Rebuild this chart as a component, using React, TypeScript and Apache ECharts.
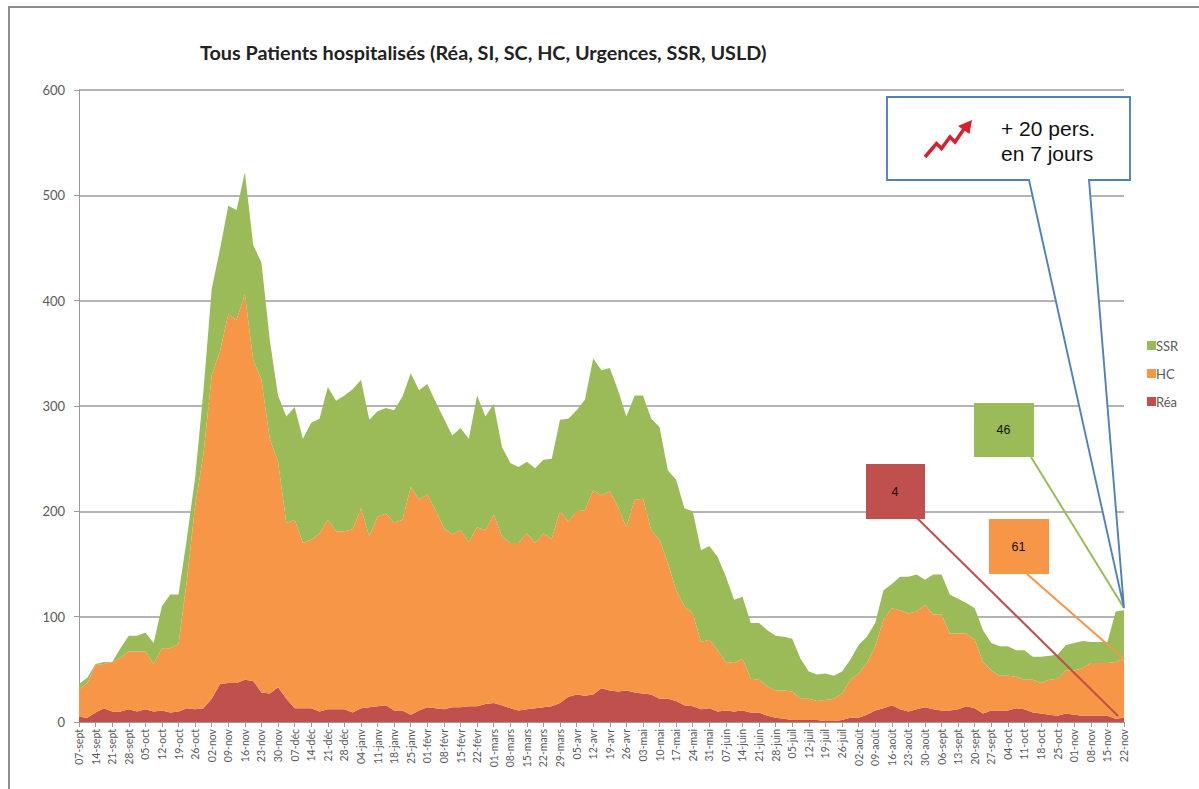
import React, { useEffect, useRef } from "react";
import * as echarts from "echarts";

const weekLabels = [
  "07-sept","14-sept","21-sept","28-sept","05-oct","12-oct","19-oct","26-oct","02-nov","09-nov","16-nov","23-nov","30-nov",
  "07-déc","14-déc","21-déc","28-déc","04-janv","11-janv","18-janv","25-janv","01-févr","08-févr","15-févr","22-févr",
  "01-mars","08-mars","15-mars","22-mars","29-mars","05-avr","12-avr","19-avr","26-avr","03-mai","10-mai","17-mai","24-mai","31-mai",
  "07-juin","14-juin","21-juin","28-juin","05-juil","12-juil","19-juil","26-juil","02-août","09-août","16-août","23-août","30-août",
  "06-sept","13-sept","20-sept","27-sept","04-oct","11-oct","18-oct","25-oct","01-nov","08-nov","15-nov","22-nov",
];

// Readings every half week
const rea = [
  5,4,9,13,10,10,12,10,12,10,11,9,10,13,12,13,22,36,37,37,40,39,28,27,33,22,13,13,13,10,12,12,12,9,
  13,14,15,16,11,11,7,11,14,13,12,14,14,15,15,17,18,16,13,11,12,13,14,15,18,24,26,25,26,32,30,29,30,28,27,26,22,22,20,16,15,12,
  13,10,11,10,11,9,9,6,4,3,2,2,2,2,1,1,2,4,4,7,11,13,16,12,10,12,14,12,11,11,12,15,13,8,11,11,11,13,12,9,8,7,6,8,7,6,6,6,6,3,4,
];
const hc = [
  26,33,45,42,47,51,55,57,55,45,59,61,64,121,193,241,307,316,350,345,366,305,297,242,214,167,179,157,160,169,180,169,169,174,
  190,162,180,182,178,181,216,200,202,188,172,164,168,156,170,165,179,160,157,159,167,157,165,159,182,166,174,176,194,183,189,175,155,183,185,156,151,129,105,94,88,64,
  65,58,46,46,49,32,31,28,26,27,27,20,20,18,20,21,25,36,42,49,61,84,92,94,93,93,97,90,91,73,72,69,65,49,38,33,33,30,28,31,29,33,35,41,42,45,50,50,50,54,56,
];
const ssr = [
  5,5,1,2,0,9,15,15,18,20,40,51,47,40,27,60,82,97,103,104,116,109,111,94,63,101,107,99,111,109,126,124,129,133,
  122,111,100,100,107,117,108,104,105,103,104,94,97,98,125,108,105,85,76,72,68,71,70,76,87,98,96,105,125,119,117,111,105,99,98,106,107,88,105,93,97,87,
  89,89,81,60,59,53,54,53,52,51,50,38,26,25,25,22,21,19,27,25,22,28,23,32,35,35,24,38,38,37,33,29,30,30,26,28,28,25,28,22,25,23,23,24,26,26,20,20,20,48,46,
];

const categories = weekLabels.flatMap((w, i) => (i < weekLabels.length - 1 ? [w, ""] : [w]));

const GREEN = "#9BBB59";
const ORANGE = "#F79646";
const RED = "#C0504D";
const BLUE = "#4F81BD";
const GREY = "#595959";

const areaSeries = (name: string, data: number[], color: string) => ({
  name,
  type: "line",
  stack: "total",
  data,
  symbol: "none",
  smooth: false,
  lineStyle: { width: 0, color },
  itemStyle: { color },
  areaStyle: { color, opacity: 1 },
});

const labelBox = (
  x: number, y: number, w: number, h: number, color: string, text: string,
  lx1: number, ly1: number, lx2: number, ly2: number
) => [
  { type: "line", z: 20, shape: { x1: lx1, y1: ly1, x2: lx2, y2: ly2 }, style: { stroke: color, lineWidth: 2 } },
  { type: "rect", z: 21, shape: { x, y, width: w, height: h }, style: { fill: color } },
  {
    type: "text", z: 22, x: x + w / 2 - 0.5, y: y + h / 2,
    style: { text, fill: "#111", font: '12.5px "Liberation Sans"', align: "center", verticalAlign: "middle" },
  },
];

export default function App() {
  const ref = useRef<HTMLDivElement>(null);
  useEffect(() => {
    const chart = echarts.init(ref.current!, undefined, { renderer: "svg" });
    chart.setOption({
      animation: false,
      backgroundColor: "#fff",
      grid: { left: 79, top: 90, width: 1045, height: 632, containLabel: false },
      title: {
        text: "Tous Patients hospitalisés (Réa, SI, SC, HC, Urgences, SSR, USLD)",
        left: 195, top: 37,
        textStyle: { fontFamily: "Lato", fontWeight: "bold", fontSize: 19.8, color: "#222" },
      },
      legend: {
        orient: "vertical", left: 1142, top: 334, itemWidth: 9, itemHeight: 9, itemGap: 15,
        icon: "rect", data: ["SSR", "HC", "Réa"],
        textStyle: { fontFamily: "Lato", fontSize: 13, color: GREY, padding: [0, 0, 0, -5] },
      },
      xAxis: {
        type: "category", data: categories, boundaryGap: false,
        axisLine: { lineStyle: { color: "#9a9a9a", width: 1 } },
        axisTick: { interval: 1, length: 5, lineStyle: { color: "#9a9a9a" } },
        axisLabel: {
          interval: 1, rotate: 90, fontFamily: "Lato", fontSize: 10.5, color: GREY, margin: 7,
          showMinLabel: true, showMaxLabel: true,
        },
        splitLine: { show: false },
      },
      yAxis: {
        type: "value", min: 0, max: 600, interval: 100,
        axisLine: { show: true, lineStyle: { color: "#9a9a9a" } },
        axisTick: { show: true, length: 5, lineStyle: { color: "#9a9a9a" } },
        axisLabel: { fontFamily: "Lato", fontSize: 13, color: GREY, margin: 14 },
        splitLine: { lineStyle: { color: "#B4B4B4", width: 2 } },
      },
      series: [areaSeries("Réa", rea, RED), areaSeries("HC", hc, ORANGE), areaSeries("SSR", ssr, GREEN)],
      graphic: [
        { type: "polyline", z: 1, silent: true, shape: { points: [[9, 789], [9, 7], [1199, 7]] }, style: { stroke: "#8c8c8c", lineWidth: 2, fill: "none" } },
        ...labelBox(974, 403, 60, 54, GREEN, "46", 1031, 457, 1124, 608),
        ...labelBox(866, 464, 59, 55, RED, "4", 917, 518, 1118, 716),
        ...labelBox(989, 519, 60, 55, ORANGE, "61", 1027, 574, 1124, 659),
        {
          type: "polygon", z: 30,
          shape: { points: [[887, 97], [1130, 97], [1130, 180], [1089, 180], [1124, 608], [1029, 180], [887, 180]] },
          style: { fill: "#fff", stroke: BLUE, lineWidth: 1.9 },
        },
        {
          type: "polyline", z: 31,
          shape: { points: [[925, 157], [936.5, 143.5], [941.5, 148.5], [950, 137], [955, 142], [966, 126]] },
          style: { stroke: "#D9202F", lineWidth: 3.5, fill: "none" },
        },
        {
          type: "polygon", z: 31,
          shape: { points: [[972, 120], [969.5, 134], [958, 126]] },
          style: { fill: "#D9202F" },
        },
        { type: "text", z: 32, x: 1001, y: 128, style: { text: "+ 20 pers.", fill: "#111", font: '21px "Liberation Sans"', verticalAlign: "middle" } },
        { type: "text", z: 32, x: 1001, y: 153, style: { text: "en 7 jours", fill: "#111", font: '21px "Liberation Sans"', verticalAlign: "middle" } },
      ],
    });
    return () => chart.dispose();
  }, []);
  return <div ref={ref} style={{ position: "absolute", left: 0, top: 0, width: 1199, height: 789 }} />;
}
